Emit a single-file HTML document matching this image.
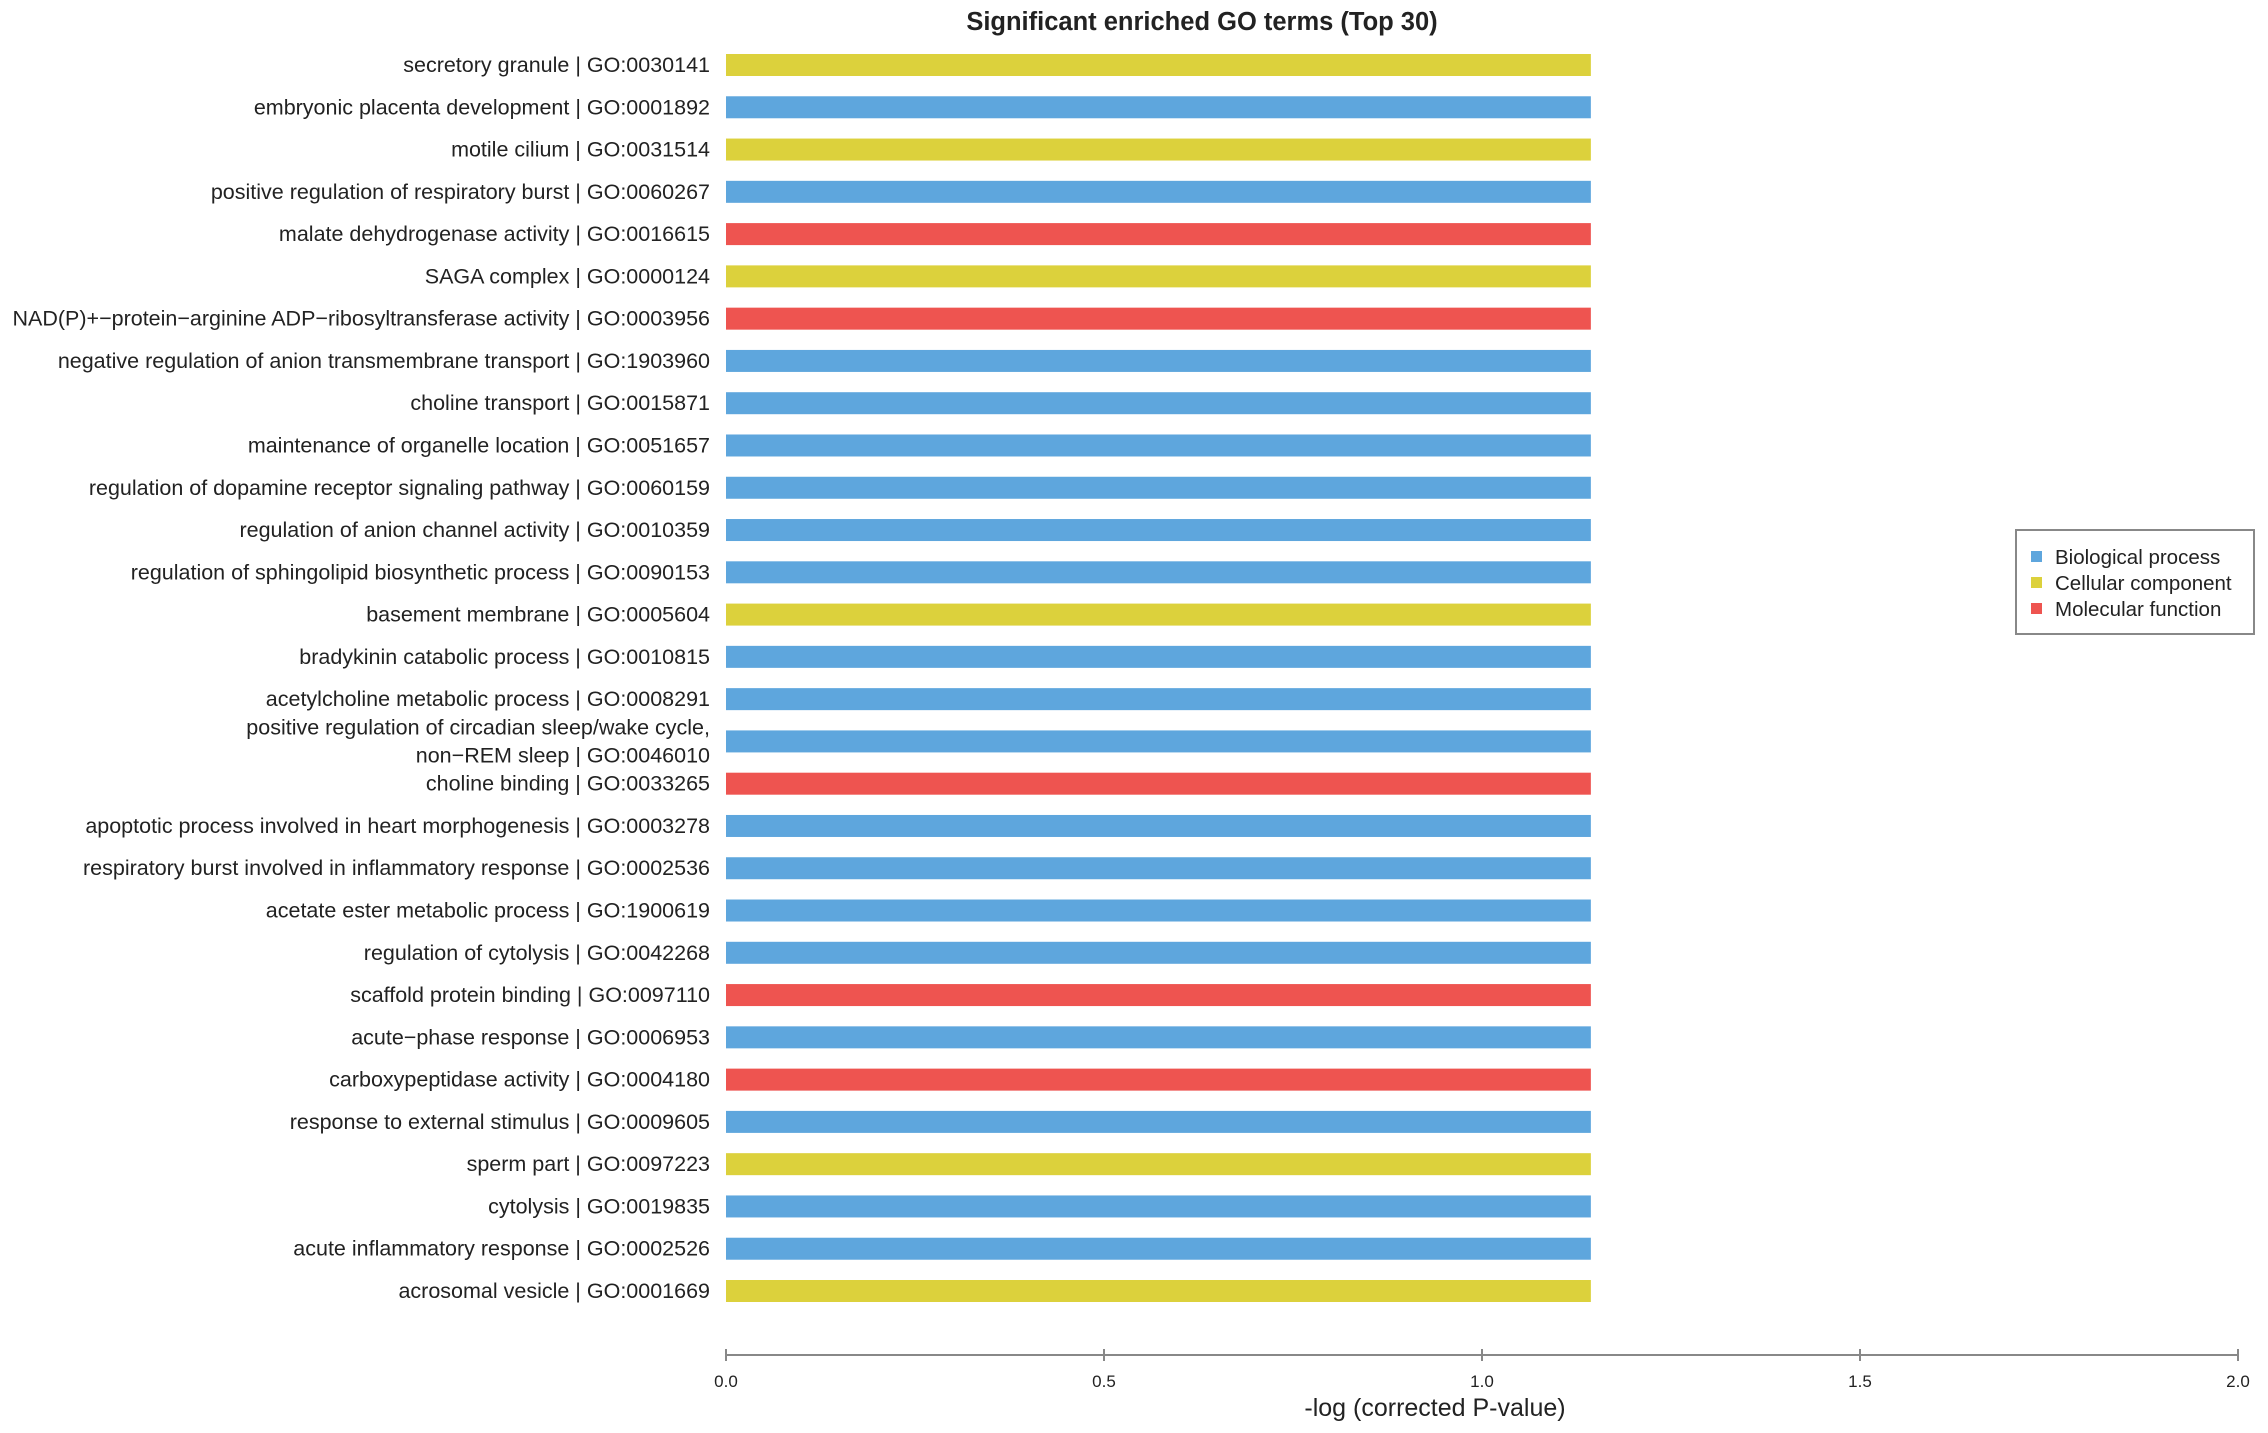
<!DOCTYPE html>
<html><head><meta charset="utf-8"><style>
html,body{margin:0;padding:0;background:#fff;}
svg{display:block;font-family:"Liberation Sans",Arial,sans-serif;}
</style></head><body>
<svg id="chart" width="2268" height="1433" viewBox="0 0 2268 1433" xmlns="http://www.w3.org/2000/svg">
<text x="1202" y="30" text-anchor="middle" font-size="25.5" font-weight="bold" fill="#222">Significant enriched GO terms (Top 30)</text>
<g id="bars"></g>
<g id="labels"></g>
<g id="xaxis"></g>
<text x="1435" y="1416" text-anchor="middle" font-size="25" fill="#222">-log (corrected P-value)</text>
<g>
<rect x="2016" y="530" width="238" height="104" fill="#fff" stroke="#888" stroke-width="2"/>
<rect x="2031" y="551" width="11" height="11" fill="#5ea6dd"/>
<text x="2055" y="564" font-size="20.5" fill="#222">Biological process</text>
<rect x="2031" y="577" width="11" height="11" fill="#dcd13c"/>
<text x="2055" y="590" font-size="20.5" fill="#222">Cellular component</text>
<rect x="2031" y="603" width="11" height="11" fill="#ee5450"/>
<text x="2055" y="616" font-size="20.5" fill="#222">Molecular function</text>
</g>
</svg>
<script>
const categories = [
"secretory granule | GO:0030141",
"embryonic placenta development | GO:0001892",
"motile cilium | GO:0031514",
"positive regulation of respiratory burst | GO:0060267",
"malate dehydrogenase activity | GO:0016615",
"SAGA complex | GO:0000124",
"NAD(P)+\u2212protein\u2212arginine ADP\u2212ribosyltransferase activity | GO:0003956",
"negative regulation of anion transmembrane transport | GO:1903960",
"choline transport | GO:0015871",
"maintenance of organelle location | GO:0051657",
"regulation of dopamine receptor signaling pathway | GO:0060159",
"regulation of anion channel activity | GO:0010359",
"regulation of sphingolipid biosynthetic process | GO:0090153",
"basement membrane | GO:0005604",
"bradykinin catabolic process | GO:0010815",
"acetylcholine metabolic process | GO:0008291",
"positive regulation of circadian sleep/wake cycle,\nnon\u2212REM sleep | GO:0046010",
"choline binding | GO:0033265",
"apoptotic process involved in heart morphogenesis | GO:0003278",
"respiratory burst involved in inflammatory response | GO:0002536",
"acetate ester metabolic process | GO:1900619",
"regulation of cytolysis | GO:0042268",
"scaffold protein binding | GO:0097110",
"acute\u2212phase response | GO:0006953",
"carboxypeptidase activity | GO:0004180",
"response to external stimulus | GO:0009605",
"sperm part | GO:0097223",
"cytolysis | GO:0019835",
"acute inflammatory response | GO:0002526",
"acrosomal vesicle | GO:0001669"
];
const types = ["CC","BP","CC","BP","MF","CC","MF","BP","BP","BP","BP","BP","BP","CC","BP","BP","BP","MF","BP","BP","BP","BP","MF","BP","MF","BP","CC","BP","BP","CC"];
const values = [1.144,1.144,1.144,1.144,1.144,1.144,1.144,1.144,1.144,1.144,1.144,1.144,1.144,1.144,1.144,1.144,1.144,1.144,1.144,1.144,1.144,1.144,1.144,1.144,1.144,1.144,1.144,1.144,1.144,1.144];
const tickValues = [0,0.5,1,1.5,2];
const tickLabels = ["0.0","0.5","1.0","1.5","2.0"];

const NS="http://www.w3.org/2000/svg";
const colors={BP:"#5ea6dd",CC:"#dcd13c",MF:"#ee5450"};
const x0=726,x1=2238,xmax=2;
const xs=v=>x0+(v/xmax)*(x1-x0);
const yTop=65,yBot=1291;
const ys=i=>yTop+i*(yBot-yTop)/(categories.length-1);
const barH=22;
const bars=document.getElementById('bars'),labels=document.getElementById('labels'),xaxis=document.getElementById('xaxis');
categories.forEach((c,i)=>{
  const r=document.createElementNS(NS,'rect');
  
  
  r.setAttribute('x',xs(0));r.setAttribute('y',ys(i)-barH/2);
  r.setAttribute('width',xs(values[i])-xs(0));r.setAttribute('height',barH);
  r.setAttribute('fill',colors[types[i]]);
  bars.appendChild(r);
  const t=document.createElementNS(NS,'text');
  
  
  t.setAttribute('text-anchor','end');t.setAttribute('font-size','21.5');t.setAttribute('fill','#222');
  const lines=c.split('\n');
  lines.forEach((ln,j)=>{
    const s=document.createElementNS(NS,'tspan');
    s.setAttribute('x',710);
    s.setAttribute('y',ys(i)+7+(j-(lines.length-1)/2)*28);
    s.textContent=ln;t.appendChild(s);
  });
  labels.appendChild(t);
});
const axl=document.createElementNS(NS,'line');


axl.setAttribute('x1',xs(0));axl.setAttribute('x2',xs(xmax));axl.setAttribute('y1',1355);axl.setAttribute('y2',1355);
axl.setAttribute('stroke','#888');axl.setAttribute('stroke-width','2');
xaxis.appendChild(axl);
tickValues.forEach((v,i)=>{
  const l=document.createElementNS(NS,'line');
  
  
  l.setAttribute('x1',xs(v));l.setAttribute('x2',xs(v));l.setAttribute('y1',1349);l.setAttribute('y2',1361);
  l.setAttribute('stroke','#888');l.setAttribute('stroke-width','2');
  xaxis.appendChild(l);
  const t=document.createElementNS(NS,'text');
  
  
  t.setAttribute('x',xs(v));t.setAttribute('y',1387);t.setAttribute('text-anchor','middle');
  t.setAttribute('font-size','17');t.setAttribute('fill','#222');
  t.textContent=tickLabels[i];
  xaxis.appendChild(t);
});
</script>
</body></html>
